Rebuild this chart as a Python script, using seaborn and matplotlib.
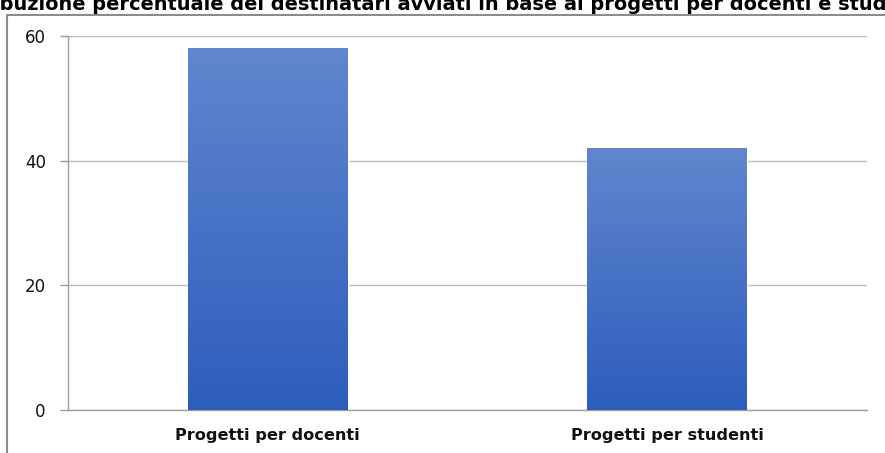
import numpy as np
import pandas as pd
import matplotlib.pyplot as plt
import matplotlib.colors as mcolors
from matplotlib.lines import Line2D
import seaborn as sns

# data
categories = ["Progetti per docenti", "Progetti per studenti"]
values = [58, 42]
title = "Distribuzione percentuale dei destinatari avviati in base ai progetti per docenti e studenti"

df = pd.DataFrame({"categoria": categories, "valore": values})

sns.set_theme(style="white")
plt.rcParams["font.family"] = ["DejaVu Sans"]

fig = plt.figure(figsize=(8.85, 4.53), dpi=100)
ax = fig.add_axes([68 / 885, 1 - 410 / 453, (867 - 68) / 885, (410 - 36) / 453])

sns.barplot(data=df, x="categoria", y="valore", ax=ax, width=0.4,
            color="#3f6cc4", saturation=1, zorder=2)

# gradient fill on each bar
cmap = mcolors.LinearSegmentedColormap.from_list("g", ["#2d5dbd", "#6186ce"])
grad = np.linspace(0, 1, 256).reshape(-1, 1)
for p in ax.patches:
    x0, y0 = p.get_x(), p.get_y()
    w, h = p.get_width(), p.get_height()
    ax.imshow(grad, cmap=cmap, origin="lower", aspect="auto",
              extent=[x0, x0 + w, y0, y0 + h], zorder=3)
    p.set_facecolor("none")

ax.set_xlim(-0.5, 1.5)
ax.set_ylim(0, 60)
ax.set_yticks([0, 20, 40, 60])
ax.yaxis.grid(True, color="#bcbcbc", linewidth=1, zorder=0)
ax.set_axisbelow(True)

ax.set_xlabel("")
ax.set_ylabel("")
ax.tick_params(axis="x", which="major", length=0, pad=13, labelsize=11.6)
for lbl in ax.get_xticklabels():
    lbl.set_fontweight("bold")
    lbl.set_color("#111111")
ax.set_xticks([-0.5, 0.5, 1.5], minor=True)
ax.tick_params(axis="x", which="minor", length=6, width=1, color="#999999", direction="out")
ax.tick_params(axis="y", length=6, width=1, color="#999999", direction="out",
               labelsize=12, labelcolor="#111111", pad=10)
ax.tick_params(left=True, bottom=True)

for s in ["top", "right"]:
    ax.spines[s].set_visible(False)
for s in ["left", "bottom"]:
    ax.spines[s].set_color("#a0a0a0")
    ax.spines[s].set_linewidth(1)

# outer frame (left and top edges, the rest falls outside the picture)
fx, fy = 7 / 885, 1 - 15 / 453
fig.add_artist(Line2D([fx, fx, 1.01], [-0.01, fy, fy], transform=fig.transFigure,
                      color="#8c8c8c", linewidth=1.5, zorder=10))

# title, wider than the figure so its ends are cut off like in the reference
r = fig.canvas.get_renderer()
fs = 12
probe = fig.text(0, 0, title[6:-4], fontsize=fs, fontweight="bold")
wv = probe.get_window_extent(r).width
fs = fs * 885 / wv
probe.set_fontsize(fs)
probe.set_text(title[:6])
wl = probe.get_window_extent(r).width
probe.remove()
fig.text(-wl / 885, 1 - 10 / 453, title, ha="left", va="baseline",
         fontsize=fs, fontweight="bold", color="#000000", zorder=11)

fig.savefig("out.png", dpi=100)
